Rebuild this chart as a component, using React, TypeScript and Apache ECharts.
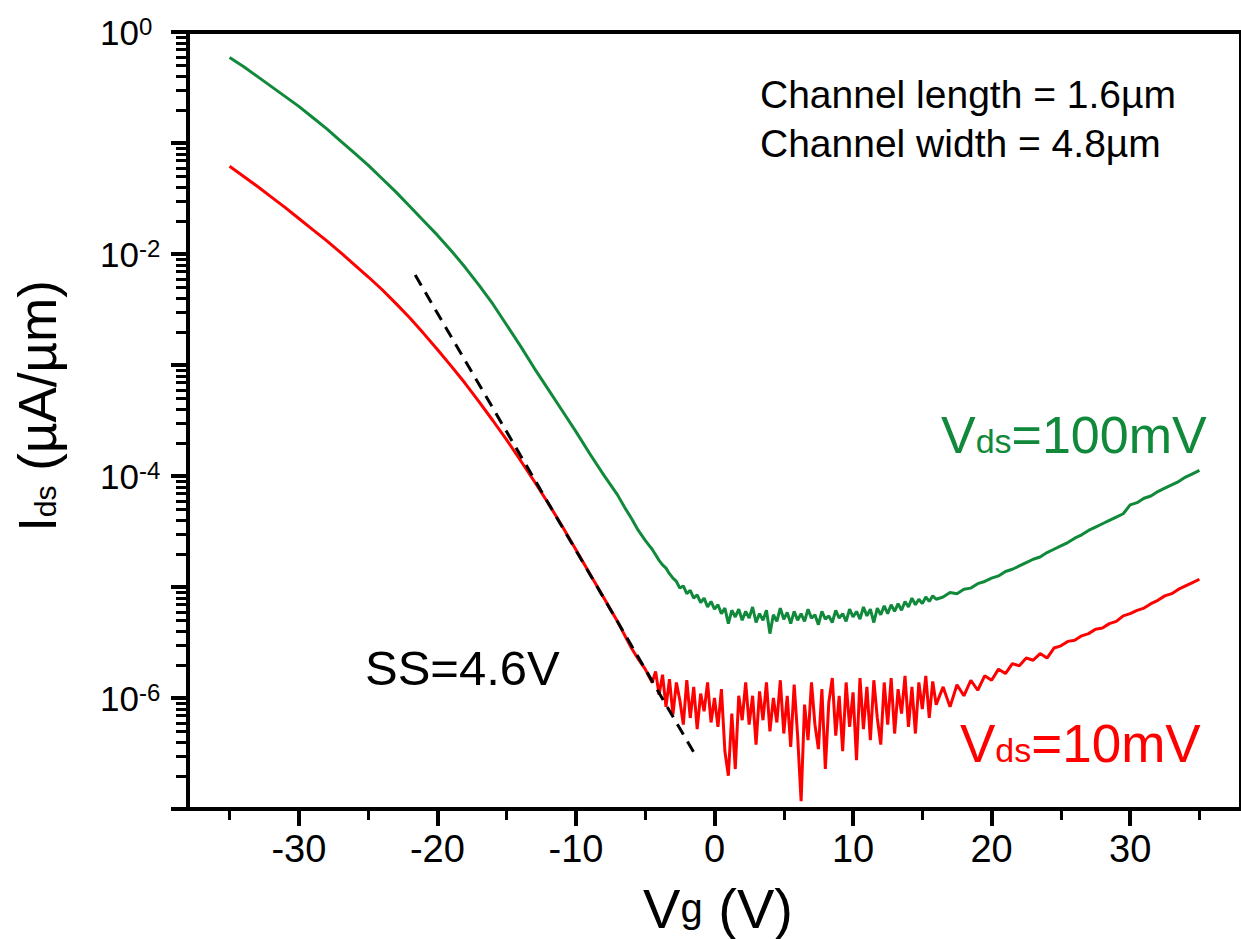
import React, { useEffect, useRef } from 'react';
import * as echarts from 'echarts';

// Gate voltage (V)
const vg = [
  -35, -34, -33, -32, -31, -30, -29, -28, -27, -26, -25, -24, -23, -22, -21, -20, -19, -18, -17, -16, -15, -14, -13, -12, -11, -10, -9, -8, -7,
  -6.5, -6, -5.5, -5,
  -4.75, -4.5, -4.25, -4, -3.75, -3.5, -3.25, -3, -2.75, -2.5, -2.25, -2, -1.75, -1.5, -1.25, -1, -0.75, -0.5, -0.25, 0,
  0.25, 0.5, 0.75, 1, 1.25, 1.5, 1.75, 2, 2.25, 2.5, 2.75, 3, 3.25, 3.5, 3.75, 4, 4.25, 4.5, 4.75, 5,
  5.25, 5.5, 5.75, 6, 6.25, 6.5, 6.75, 7, 7.25, 7.5, 7.75, 8, 8.25, 8.5, 8.75, 9, 9.25, 9.5, 9.75, 10,
  10.25, 10.5, 10.75, 11, 11.25, 11.5, 11.75, 12, 12.25, 12.5, 12.75, 13, 13.25, 13.5, 13.75, 14, 14.25, 14.5, 14.75, 15,
  15.25, 15.5, 15.75, 16,
  16.5, 17, 17.5, 18, 18.5, 19, 19.5, 20, 20.5, 21, 21.5, 22, 22.5, 23, 23.5, 24, 24.5, 25, 25.5, 26, 26.5, 27, 27.5, 28,
  28.5, 29, 29.5, 30, 30.5, 31, 31.5, 32, 32.5, 33, 33.5, 34, 34.5, 35,
];

// log10(Ids / (uA/um)) for Vds = 100 mV
const greenLog = [
  -0.23, -0.31, -0.40, -0.49, -0.58, -0.67, -0.77, -0.87, -0.98, -1.09, -1.20, -1.32, -1.44, -1.57, -1.70, -1.83, -1.97, -2.12, -2.28, -2.45, -2.64, -2.83, -3.03, -3.22, -3.41, -3.60, -3.80, -3.99, -4.17,
  -4.28, -4.38, -4.49, -4.58,
  -4.62, -4.66, -4.71, -4.76, -4.80, -4.83, -4.88, -4.92, -4.95, -5.01, -4.99, -5.06, -5.03, -5.10, -5.07, -5.14, -5.10, -5.18, -5.13, -5.20,
  -5.16, -5.24, -5.19, -5.33, -5.21, -5.27, -5.20, -5.30, -5.22, -5.28, -5.18, -5.32, -5.24, -5.30, -5.21, -5.42, -5.25, -5.31, -5.19, -5.29,
  -5.23, -5.33, -5.22, -5.30, -5.24, -5.31, -5.20, -5.28, -5.25, -5.34, -5.22, -5.29, -5.26, -5.32, -5.21, -5.28, -5.24, -5.31, -5.20, -5.27,
  -5.22, -5.29, -5.18, -5.26, -5.20, -5.32, -5.19, -5.25, -5.17, -5.24, -5.16, -5.22, -5.15, -5.21, -5.13, -5.18, -5.10, -5.16, -5.11, -5.15,
  -5.09, -5.13, -5.08, -5.11,
  -5.09, -5.05, -5.06, -5.02, -5.01, -4.97, -4.95, -4.92, -4.90, -4.86, -4.84, -4.81, -4.78, -4.75, -4.73, -4.69, -4.66, -4.63, -4.60, -4.56, -4.53, -4.49, -4.46, -4.43,
  -4.40, -4.37, -4.34, -4.26, -4.24, -4.20, -4.18, -4.14, -4.11, -4.08, -4.05, -4.01, -3.98, -3.95,
];

// log10(Ids / (uA/um)) for Vds = 10 mV
const redLog = [
  -1.21, -1.30, -1.39, -1.485, -1.58, -1.68, -1.78, -1.88, -1.985, -2.095, -2.205, -2.32, -2.445, -2.575, -2.715, -2.86, -3.01, -3.165, -3.33, -3.50, -3.675, -3.86, -4.05, -4.245, -4.45, -4.665, -4.88, -5.095, -5.31,
  -5.43, -5.55, -5.65, -5.74,
  -5.80, -5.86, -5.76, -5.97, -5.79, -6.08, -5.83, -6.15, -5.86, -6.02, -6.24, -5.84, -6.18, -5.90, -6.28, -5.96, -6.12, -5.86, -6.22, -6.00,
  -6.26, -5.92, -6.48, -6.70, -6.14, -6.64, -5.98, -6.20, -5.86, -6.24, -5.98, -6.42, -5.94, -6.20, -5.86, -6.30, -6.00, -6.22, -5.84, -6.32,
  -5.98, -6.44, -5.88, -6.34, -6.93, -6.06, -6.38, -5.86, -6.24, -6.46, -5.92, -6.64, -6.04, -5.82, -6.34, -5.98, -6.48, -5.86, -6.26, -5.95,
  -6.56, -5.82, -6.28, -5.90, -6.38, -5.84, -6.18, -6.42, -5.86, -6.24, -5.82, -6.32, -5.92, -6.14, -5.80, -6.26, -5.90, -6.32, -5.86, -6.10,
  -5.80, -6.18, -5.85, -6.06,
  -5.90, -6.08, -5.88, -5.98, -5.84, -5.93, -5.80, -5.84, -5.74, -5.78, -5.69, -5.71, -5.64, -5.66, -5.60, -5.64, -5.55, -5.53, -5.49, -5.48, -5.44, -5.42, -5.38, -5.37,
  -5.33, -5.31, -5.26, -5.24, -5.21, -5.19, -5.15, -5.12, -5.08, -5.06, -5.02, -4.99, -4.96, -4.93,
];

// Subthreshold-swing fit line (dashed)
const fitVg = [-21.6, -1.4];
const fitLog = [-2.19, -6.51];

// Axis ticks
const xMajorTicks = [-30, -20, -10, 0, 10, 20, 30];
const xMinorTicks = [-35, -25, -15, -5, 5, 15, 25, 35];
const yLabelExps = [0, -2, -4, -6];
const yDecades = [-7, -6, -5, -4, -3, -2, -1];
const yMinorFactors = [2, 3, 4, 5, 6, 7, 8, 9];

const FONT = "'Liberation Sans', Arial, Helvetica, sans-serif";
const GREEN = '#10893b';
const RED = '#ff0000';

export default function App() {
  const ref = useRef<HTMLDivElement>(null);

  useEffect(() => {
    if (!ref.current) return;
    const chart = echarts.init(ref.current, undefined, { renderer: 'svg' });

    const minorExps: number[] = [];
    yDecades.forEach((d) => yMinorFactors.forEach((k) => minorExps.push(d + Math.log10(k))));

    const option: any = {
      animation: false,
      backgroundColor: '#ffffff',
      grid: {
        left: 188,
        top: 32,
        right: -7,
        bottom: 130,
        show: true,
        borderColor: '#000',
        borderWidth: 4,
        backgroundColor: 'transparent',
      },
      xAxis: [
        {
          type: 'value',
          min: -38,
          max: 38,
          position: 'bottom',
          splitLine: { show: false },
          axisLine: { show: true, onZero: false, lineStyle: { color: '#000', width: 4 } },
          axisTick: { show: true, inside: false, length: 17, customValues: xMajorTicks, lineStyle: { color: '#000', width: 4 } },
          axisLabel: {
            show: true,
            customValues: xMajorTicks,
            margin: 21,
            color: '#000',
            fontSize: 38,
            fontFamily: FONT,
            lineHeight: 38,
          },
        },
        {
          type: 'value',
          min: -38,
          max: 38,
          position: 'bottom',
          gridIndex: 0,
          splitLine: { show: false },
          axisLine: { show: false, onZero: false },
          axisTick: { show: true, inside: false, length: 11, customValues: xMinorTicks, lineStyle: { color: '#000', width: 3 } },
          axisLabel: { show: false },
        },
      ],
      yAxis: {
        type: 'value',
        min: -7,
        max: 0,
        interval: 1,
        splitLine: { show: false },
        axisLine: { show: true, onZero: false, lineStyle: { color: '#000', width: 4 } },
        axisTick: { show: true, inside: false, length: 17, lineStyle: { color: '#000', width: 4 } },
        axisLabel: {
          align: 'left',
          margin: 88,
          formatter: (v: number) => {
            const e = Math.round(v);
            return yLabelExps.indexOf(e) >= 0 ? `{b|10}{s|${e}}` : '';
          },
          rich: {
            b: { fontSize: 35, fontFamily: FONT, color: '#000', lineHeight: 35 },
            s: { fontSize: 24, fontFamily: FONT, color: '#000', lineHeight: 18, verticalAlign: 'top' },
          },
        },
      },
      series: [
        {
          name: 'Vds=100mV',
          type: 'line',
          data: vg.map((x, i) => [x, greenLog[i]]),
          showSymbol: false,
          symbol: 'none',
          lineStyle: { color: GREEN, width: 3 },
          itemStyle: { color: GREEN },
          z: 3,
        },
        {
          name: 'Vds=10mV',
          type: 'line',
          data: vg.map((x, i) => [x, redLog[i]]),
          showSymbol: false,
          symbol: 'none',
          lineStyle: { color: RED, width: 3 },
          itemStyle: { color: RED },
          z: 3,
        },
        {
          name: 'SS fit',
          type: 'line',
          data: fitVg.map((x, i) => [x, fitLog[i]]),
          showSymbol: false,
          symbol: 'none',
          lineStyle: { color: '#000', width: 3, type: [12, 8] },
          z: 4,
        },
        {
          name: 'yMinorTicks',
          type: 'custom',
          clip: false,
          silent: true,
          data: [[-38, 0]],
          renderItem: (_params: any, api: any) => {
            const children = minorExps.map((e) => {
              const p = api.coord([-38, e]);
              const y = Math.round(p[1]) + 0.5;
              return {
                type: 'line',
                shape: { x1: p[0] - 12, y1: y, x2: p[0], y2: y },
                style: { stroke: '#000', lineWidth: 3 },
              };
            });
            return { type: 'group', children };
          },
          z: 5,
        },
      ],
      graphic: [
        {
          type: 'text',
          x: 718,
          y: 908,
          style: {
            text: '{a|V}{g|g}{a| (V)}',
            align: 'center',
            verticalAlign: 'middle',
            rich: {
              a: { fontSize: 56, fontFamily: FONT, fill: '#000', lineHeight: 56, verticalAlign: 'bottom' },
              g: { fontSize: 40, fontFamily: FONT, fill: '#000', lineHeight: 40, verticalAlign: 'bottom', padding: [0, 0, 8, 0] },
            },
          },
        },
        {
          type: 'text',
          x: 37,
          y: 406,
          rotation: Math.PI / 2,
          style: {
            text: '{a|I}{d|ds}{a| (µA/µm)}',
            align: 'center',
            verticalAlign: 'middle',
            rich: {
              a: { fontSize: 53, fontFamily: FONT, fill: '#000', lineHeight: 53, verticalAlign: 'bottom' },
              d: { fontSize: 30, fontFamily: FONT, fill: '#000', lineHeight: 30, verticalAlign: 'bottom', padding: [0, 0, 3, 0] },
            },
          },
        },
        {
          type: 'text',
          x: 760,
          y: 94,
          style: { text: 'Channel length = 1.6µm', fontSize: 39, fontFamily: FONT, fill: '#000', align: 'left', verticalAlign: 'middle' },
        },
        {
          type: 'text',
          x: 760,
          y: 143,
          style: { text: 'Channel width = 4.8µm', fontSize: 39, fontFamily: FONT, fill: '#000', align: 'left', verticalAlign: 'middle' },
        },
        {
          type: 'text',
          x: 941,
          y: 435,
          style: {
            text: '{a|V}{b|ds}{a|=100mV}',
            align: 'left',
            verticalAlign: 'middle',
            rich: {
              a: { fontSize: 52, fontFamily: FONT, fill: GREEN, lineHeight: 52, verticalAlign: 'bottom' },
              b: { fontSize: 34, fontFamily: FONT, fill: GREEN, lineHeight: 34, verticalAlign: 'bottom', padding: [0, 0, 3, 0] },
            },
          },
        },
        {
          type: 'text',
          x: 960,
          y: 743,
          style: {
            text: '{a|V}{b|ds}{a|=10mV}',
            align: 'left',
            verticalAlign: 'middle',
            rich: {
              a: { fontSize: 53, fontFamily: FONT, fill: RED, lineHeight: 53, verticalAlign: 'bottom' },
              b: { fontSize: 34, fontFamily: FONT, fill: RED, lineHeight: 34, verticalAlign: 'bottom', padding: [0, 0, 3, 0] },
            },
          },
        },
        {
          type: 'text',
          x: 365,
          y: 668,
          style: { text: 'SS=4.6V', fontSize: 49, fontFamily: FONT, fill: '#000', align: 'left', verticalAlign: 'middle' },
        },
      ],
    };

    chart.setOption(option);
    return () => chart.dispose();
  }, []);

  return (
    <div
      ref={ref}
      style={{ position: 'fixed', left: 0, top: 0, width: 1241, height: 939, background: '#fff' }}
    />
  );
}
